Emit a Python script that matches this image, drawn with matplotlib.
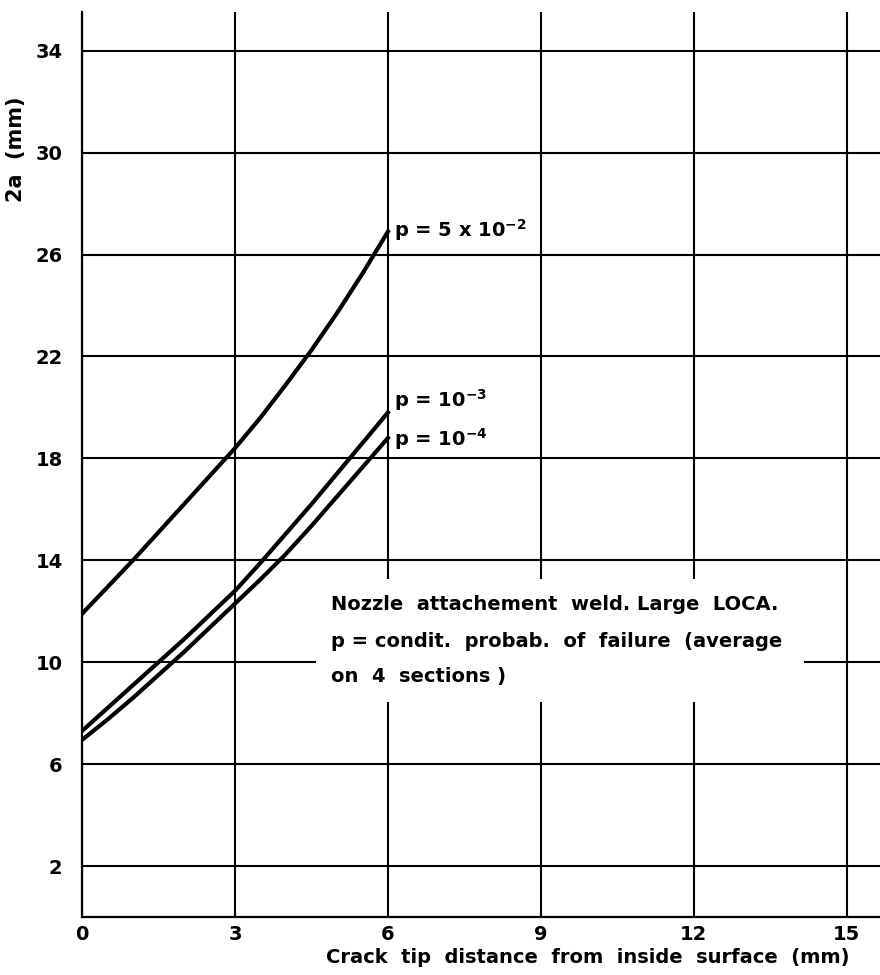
import numpy as np
import matplotlib
matplotlib.use('Agg')
import matplotlib.pyplot as plt
from matplotlib.patches import Rectangle

plt.rcParams['font.family'] = ['DejaVu Sans']
plt.rcParams['font.weight'] = 'bold'
plt.rcParams['mathtext.default'] = 'bf'

# crack tip distance (mm)
x = [0, 0.5, 1, 1.5, 2, 2.5, 3, 3.5, 4, 4.5, 5, 5.5, 6]
# 2a (mm) for each failure probability
a_5e2 = [11.9, 12.95, 14.0, 15.1, 16.2, 17.3, 18.4, 19.6, 20.9, 22.25, 23.7, 25.25, 26.9]
a_1e3 = [7.3, 8.2, 9.1, 10.0, 10.9, 11.85, 12.8, 13.9, 15.05, 16.2, 17.4, 18.6, 19.8]
a_1e4 = [6.95, 7.75, 8.6, 9.5, 10.4, 11.35, 12.3, 13.25, 14.25, 15.35, 16.5, 17.65, 18.8]

xticks = [0, 3, 6, 9, 12, 15]
yticks = [2, 6, 10, 14, 18, 22, 26, 30, 34]

labels = [r'p = 5 x 10$^{-2}$', r'p = 10$^{-3}$', r'p = 10$^{-4}$']
note = ['Nozzle  attachement  weld. Large  LOCA.',
        'p = condit.  probab.  of  failure  (average',
        'on  4  sections )']

fig = plt.figure(figsize=(8.8, 9.75), dpi=100)
ax = fig.add_axes([0.0932, 0.0595, 0.9068, 0.9285])

ax.set_xlim(0, 15.65)
ax.set_ylim(0, 35.53)
ax.set_xticks(xticks)
ax.set_yticks(yticks)
ax.tick_params(length=0, labelsize=14)
ax.tick_params(axis='x', pad=6)
ax.tick_params(axis='y', pad=14)
ax.grid(True, color='black', linewidth=1.5)
ax.set_axisbelow(True)
for s in ['top', 'right']:
    ax.spines[s].set_visible(False)
for s in ['left', 'bottom']:
    ax.spines[s].set_linewidth(1.6)

# white box behind the note, breaking the grid
ax.add_patch(Rectangle((4.59, 8.43), 14.16 - 4.59, 13.25 - 8.43,
                       facecolor='white', edgecolor='none', zorder=1))

for yv in [a_5e2, a_1e3, a_1e4]:
    ax.plot(x, yv, color='black', linewidth=3, zorder=3)

ax.text(6.12, 26.95, labels[0], fontsize=14, va='center', ha='left')
ax.text(6.12, 20.3, labels[1], fontsize=14, va='center', ha='left')
ax.text(6.12, 18.75, labels[2], fontsize=14, va='center', ha='left')

for yy, line in zip([12.27, 10.82, 9.45], note):
    ax.text(4.88, yy, line, fontsize=14, va='center', ha='left', zorder=4)

ax.set_xlabel('Crack  tip  distance  from  inside  surface  (mm)',
              fontsize=14, fontweight='bold')
ax.xaxis.set_label_coords(0.9615, -0.034)
ax.xaxis.label.set_horizontalalignment('right')
ax.set_ylabel('2a  (mm)', fontsize=15, fontweight='bold')
ax.yaxis.set_label_coords(-0.07, 0.848)

fig.savefig('out.png', dpi=100)
